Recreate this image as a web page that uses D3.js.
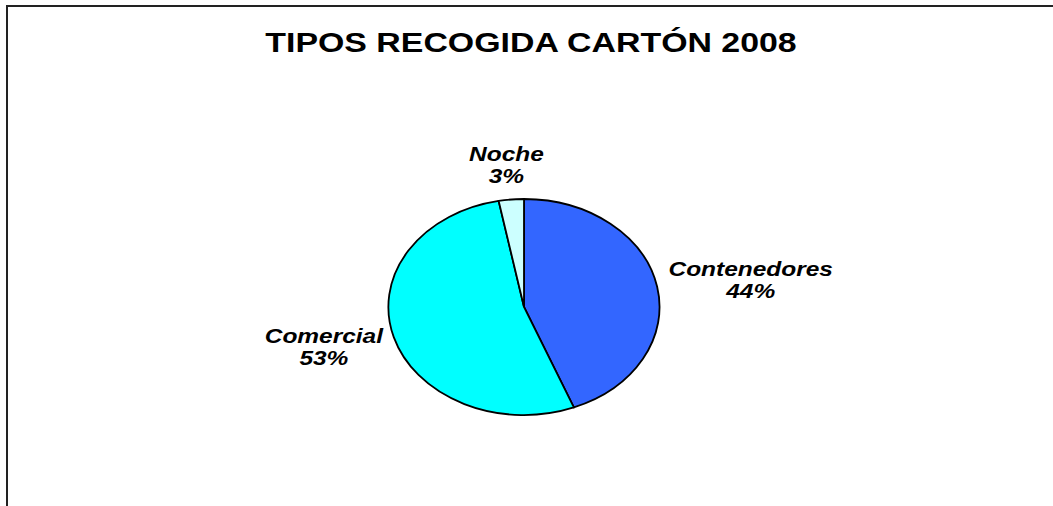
<!DOCTYPE html>
<html><head><meta charset="utf-8">
<script src="https://cdn.jsdelivr.net/npm/d3@7"></script>
<style>body{margin:0;background:#fff}svg{display:block}</style>
</head><body>
<script>
const title = "TIPOS RECOGIDA CARTÓN 2008";
const categories = ["Contenedores", "Comercial", "Noche"];
const values = [44, 53, 3];
const colors = ["#3366FF", "#00FFFF", "#CCFFFF"];

const W = 1053, H = 506;
const sx = 1.255; // horizontal stretch of the original chart
const svg = d3.select("body").append("svg").attr("width", W).attr("height", H);

// frame (extends beyond right/bottom of window)
svg.append("rect").attr("x", 7).attr("y", 6).attr("width", 1060).attr("height", 520)
  .attr("fill", "#fff").attr("stroke", "#222").attr("stroke-width", 2);

svg.append("text").attr("transform", `translate(531,52) scale(${sx},1)`).attr("text-anchor", "middle")
  .attr("font-family", "Liberation Sans, Arial, sans-serif").attr("font-weight", "bold")
  .attr("font-size", 27).text(title);

const cx = 524, cy = 307, rx = 135.5, ry = 108;
const total = d3.sum(values);
const pie = d3.pie().sort(null).value(d => d)(values);
const arc = d3.arc().innerRadius(0).outerRadius(1);

const g = svg.append("g").attr("transform", `translate(${cx},${cy}) scale(${rx},${ry})`);
g.selectAll("path").data(pie).join("path")
  .attr("d", arc).attr("fill", (d, i) => colors[i])
  .attr("stroke", "#000").attr("stroke-width", 1.8).attr("vector-effect", "non-scaling-stroke");

const gap = 13;
pie.forEach((d, i) => {
  const a = (d.startAngle + d.endAngle) / 2;
  const s = Math.sin(a), c = -Math.cos(a);
  const px = cx + rx * s + gap * s, py = cy + ry * c + gap * c;
  const outer = svg.append("g");
  const t = outer.append("text")
    .attr("font-family", "Liberation Sans, Arial, sans-serif").attr("font-weight", "bold")
    .attr("font-style", "italic").attr("font-size", 19.5)
    .attr("text-anchor", "middle");
  t.append("tspan").attr("x", 0).attr("dy", 0).text(categories[i]);
  t.append("tspan").attr("x", 0).attr("dy", 22).text(Math.round(d.value / total * 100) + "%");
  const bb = t.node().getBBox();
  const w = bb.width * sx, h = bb.height;
  const ccx = px + s * w / 2, ccy = py + c * h / 2;
  outer.attr("transform", `translate(${ccx - (bb.x + bb.width / 2) * sx},${ccy - (bb.y + bb.height / 2)}) scale(${sx},1)`);
});
</script>
</body></html>
